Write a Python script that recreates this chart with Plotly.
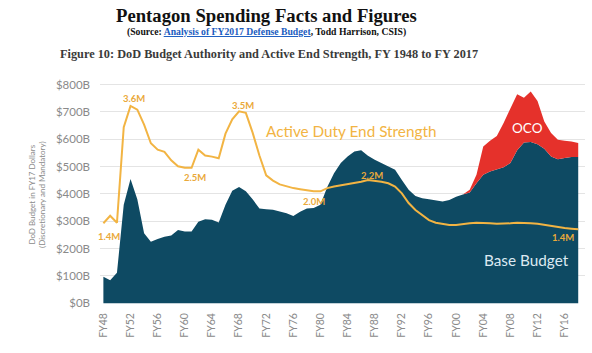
import plotly.graph_objects as go

years = list(range(1948, 2019))

base_budget = [97, 84, 111, 360, 455, 380, 256, 225, 235, 243,
               248, 268, 262, 262, 298, 307, 305, 295, 360, 412,
               425, 410, 380, 347, 344, 342, 336, 329, 319, 335,
               347, 348, 360, 425, 476, 513, 537, 555, 560, 540,
               525, 513, 500, 488, 451, 415, 392, 384, 380, 375,
               372, 378, 390, 398, 405, 439, 470, 482, 491, 498,
               513, 560, 588, 590, 582, 565, 537, 527, 531, 535,
               535]

oco_years = list(range(2001, 2019))
total_with_oco = [398, 415, 470, 574, 595, 612, 660, 711, 765, 752,
                  775, 740, 665, 623, 598, 595, 592, 586]

end_strength = [1.40, 1.54, 1.41, 3.20, 3.60, 3.53, 3.25, 2.90, 2.78, 2.74,
                2.58, 2.47, 2.44, 2.44, 2.78, 2.67, 2.65, 2.62, 3.08, 3.35,
                3.50, 3.47, 3.10, 2.67, 2.30, 2.20, 2.13, 2.09, 2.06, 2.04,
                2.02, 2.00, 2.00, 2.06, 2.09, 2.11, 2.13, 2.15, 2.18, 2.21,
                2.20, 2.18, 2.15, 2.09, 1.96, 1.78, 1.65, 1.56, 1.46, 1.41,
                1.39, 1.37, 1.37, 1.39, 1.40, 1.41, 1.41, 1.40, 1.39, 1.39,
                1.40, 1.41, 1.41, 1.40, 1.39, 1.37, 1.34, 1.32, 1.31, 1.30,
                1.29]

tick_years = list(range(1948, 2017, 4))
tick_labels = ["FY%02d" % (y % 100) for y in tick_years]
y_ticks = list(range(0, 801, 100))
y_tick_labels = ["$%dB" % v for v in y_ticks]

# labelled points on the end-strength line: (year, text, xshift, yshift)
strength_labels = [(1948, "1.4M", 6, -13), (1952, "3.6M", 3, 7), (1961, "2.5M", 3, -10),
                   (1968, "3.5M", 4, 6), (1979, "2.0M", 0, -10), (1987, "2.2M", 4, 5),
                   (2016, "1.4M", -2, -9)]

NAVY = "#0e4a63"
RED = "#e5312b"
GOLD = "#f2b443"
GOLD_TXT = "#eaa93a"
GRAY = "#8a8a8a"

# total for OCO band: equals base where no OCO
total_full = [b for b in base_budget]
for yv, t in zip(oco_years, total_with_oco):
    total_full[years.index(yv)] = t

fig = go.Figure()
fig.add_trace(go.Scatter(x=years, y=base_budget, mode="lines", line=dict(width=0, color=NAVY),
                         fill="tozeroy", fillcolor=NAVY, hoverinfo="skip", showlegend=False))
fig.add_trace(go.Scatter(x=years, y=total_full, mode="lines", line=dict(width=0, color=RED),
                         fill="tonexty", fillcolor=RED, hoverinfo="skip", showlegend=False))
fig.add_trace(go.Scatter(x=years, y=end_strength, mode="lines", line=dict(width=2, color=GOLD),
                         yaxis="y2", hoverinfo="skip", showlegend=False))

ann = []
for yr, txt, xs, ys in strength_labels:
    ann.append(dict(x=yr, y=end_strength[years.index(yr)], xref="x", yref="y2", text="<b>%s</b>" % txt,
                    showarrow=False, xshift=xs, yshift=ys, font=dict(family="Lato", size=9.5, color=GOLD_TXT)))

# text blocks positioned in page pixels (x centre, y centre)
ann += [
    dict(x=266, y=15, xref="paper", yref="paper", text="<b>Pentagon Spending Facts and Figures</b>",
         showarrow=False, font=dict(family="Liberation Serif", size=18.7, color="#111111")),
    dict(x=266, y=32, xref="paper", yref="paper",
         text="<b>(Source: <span style='color:#1a5cc0;text-decoration:underline'>Analysis of FY2017 Defense Budget</span>, Todd Harrison, CSIS)</b>",
         showarrow=False, font=dict(family="Liberation Serif", size=9.7, color="#111111")),
    dict(x=269, y=54, xref="paper", yref="paper",
         text="<b>Figure 10: DoD Budget Authority and Active End Strength, FY 1948 to FY 2017</b>",
         showarrow=False, font=dict(family="Liberation Serif", size=12.3, color="#3a3a3a")),
    dict(x=37, y=194, xref="paper", yref="paper", text="DoD Budget in FY17 Dollars<br>(Discretionary and Mandatory)",
         textangle=-90, showarrow=False, font=dict(family="Lato", size=8, color=GRAY)),
    dict(x=351, y=131, xref="paper", yref="paper", text="Active Duty End Strength",
         showarrow=False, font=dict(family="Lato", size=15.3, color=GOLD)),
    dict(x=527, y=128, xref="paper", yref="paper", text="OCO",
         showarrow=False, font=dict(family="Lato", size=13.5, color="#ffffff")),
    dict(x=526, y=260, xref="paper", yref="paper", text="Base Budget",
         showarrow=False, font=dict(family="Lato", size=15.3, color="#dce9f2")),
]

W, H = 592, 353
ML, MR, MT, MB = 100, 7, 83, 49
pw, ph = W - ML - MR, H - MT - MB
for a in ann:
    if a.get("xref") == "paper":
        a["x"] = (a["x"] - ML) / pw
        a["y"] = 1 - (a["y"] - MT) / ph
        a["xanchor"] = "center"
        a["yanchor"] = "middle"

fig.update_layout(
    width=W, height=H,
    margin=dict(l=ML, r=MR, t=MT, b=MB),
    paper_bgcolor="white", plot_bgcolor="white",
    annotations=ann,
    xaxis=dict(range=[1947.5, 2019], tickvals=tick_years, ticktext=tick_labels, tickangle=-90,
               showgrid=False, zeroline=False, showline=False, ticks="",
               ticklabelstandoff=6,
               tickfont=dict(family="Lato", size=10.5, color=GRAY)),
    yaxis=dict(range=[-3, 806], tickvals=y_ticks, ticktext=y_tick_labels, showgrid=True,
               gridcolor="#e4e4e4", gridwidth=1, zeroline=False, showline=False, ticks="",
               ticklabelstandoff=9, tickfont=dict(family="Lato", size=11.5, color=GRAY)),
    yaxis2=dict(range=[-0.113, 4.03], overlaying="y", visible=False),
)

fig.write_html("out.html")
